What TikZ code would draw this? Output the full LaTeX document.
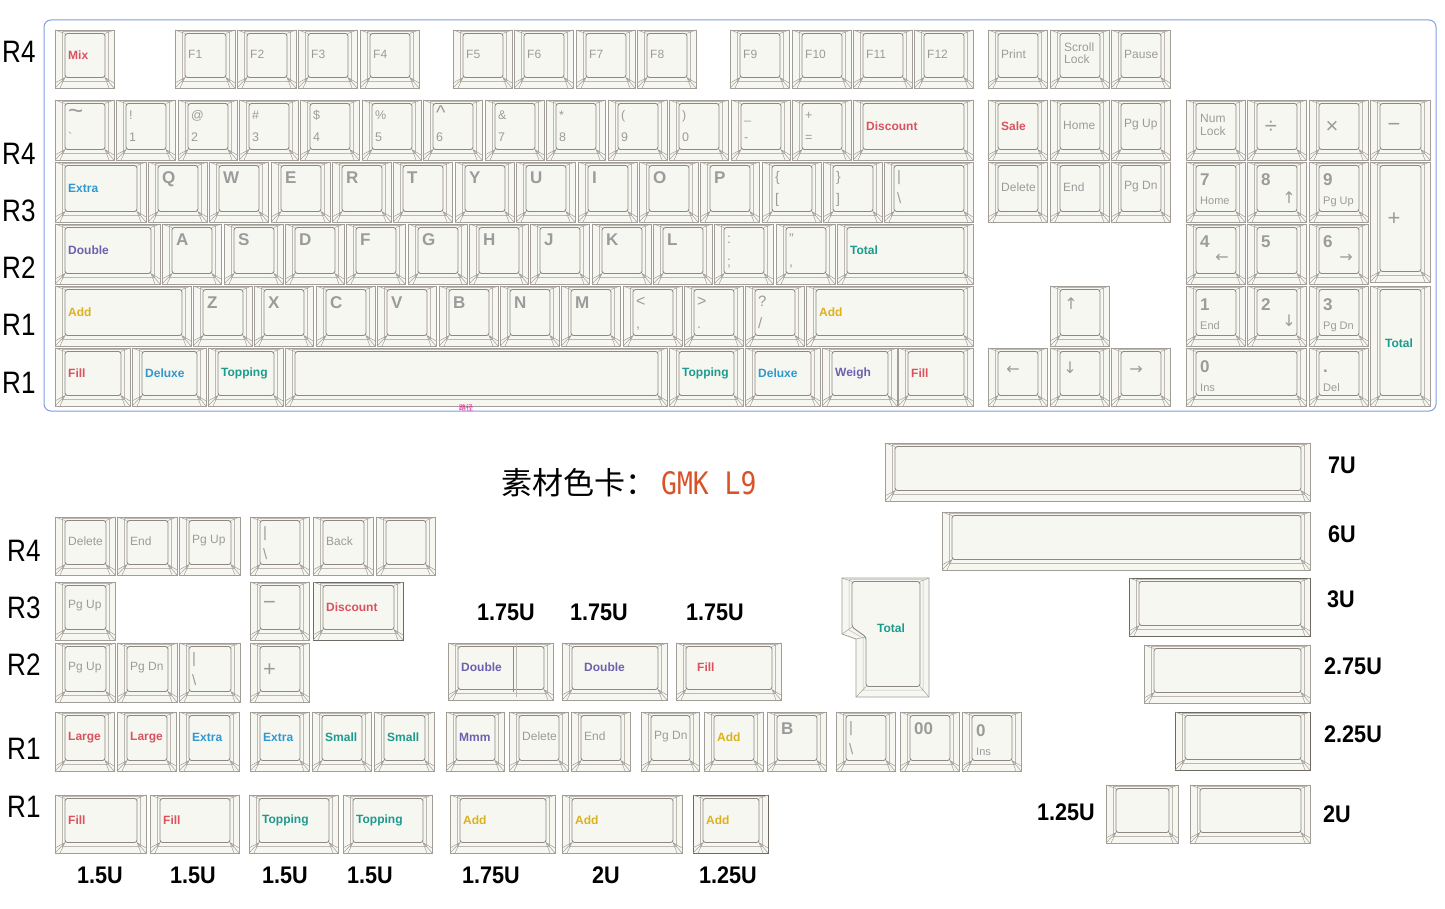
\documentclass[tikz,border=0pt]{standalone}
\usepackage{fontspec}
\usepackage{graphicx}
\setmainfont{Liberation Sans}
\newfontfamily\cjk{Noto Sans CJK SC}
\newfontfamily\mono{DejaVu Sans Mono}
\newfontfamily\symf{DejaVu Sans}

\definecolor{capfill}{HTML}{F7F7F2}
\definecolor{capline}{HTML}{A29D97}
\definecolor{capwallc}{HTML}{BDB8B2}
\definecolor{capfacec}{HTML}{8E8882}
\definecolor{capdark}{HTML}{6E6963}
\definecolor{legred}{HTML}{D9525E}
\definecolor{legblue}{HTML}{2F98CF}
\definecolor{legteal}{HTML}{1C9A8C}
\definecolor{legyellow}{HTML}{DDB11E}
\definecolor{legpurple}{HTML}{6B61AE}
\definecolor{leggray}{HTML}{9B9B9B}
\definecolor{frameblue}{HTML}{7F9EE3}
\definecolor{titleorange}{HTML}{D9532A}

% one keycap, x1 y1 x2 y2 (y down)
\newcommand{\keycap}[5][]{%
  \draw[capout,#1] (#2,#3) rectangle (#4,#5);
  \draw[capwall] ({#2+7},{#3+1.5}) rectangle ({#4-6},{#5-7});
  \draw[capface] ({#2+10},{#3+3.5}) rectangle ({#4-9},{#5-10.5});
  \draw[capbevel] (#2,#3) -- ({#2+10},{#3+3.5}) (#4,#3) -- ({#4-9},{#3+3.5})
    (#2,{#5-5}) -- ({#2+10},{#5-10.5}) -- ({#2+5},#5)
    (#2,#5) -- ({#2+10},{#5-10.5})
    (#4,{#5-5}) -- ({#4-9},{#5-10.5}) -- ({#4-5},#5)
    (#4,#5) -- ({#4-9},{#5-10.5});}
\newcommand{\modkey}[7][]{\keycap[#1]{#2}{#3}{#4}{#5}
  \node[modleg,text=#6] (k-#2-#3) at ({#2+13},{(#3+#5)/2-4}) {#7};}
\newcommand{\graykey}[5]{\keycap{#1}{#2}{#3}{#4}
  \node[grayleg] (k-#1-#2) at ({#1+13},{(#2+#4)/2-5}) {#5};}
\newcommand{\alphakey}[5]{\keycap{#1}{#2}{#3}{#4}
  \node[alphaleg] (k-#1-#2) at ({#1+14},{#2+22}) {#5};}
\newcommand{\dualkey}[6]{\keycap{#1}{#2}{#3}{#4}
  \node[subleg] (k-#1-#2) at ({#1+13},{#2+20}) {#5};
  \node[subleg] (k-#1-#2-b) at ({#1+13},{#2+42}) {#6};}
\newcommand{\padkey}[6]{\keycap{#1}{#2}{#3}{#4}
  \node[alphaleg] (k-#1-#2) at ({#1+14},{#2+24}) {#5};
  \node[subleg,font=\fontsize{11}{12}\selectfont] (k-#1-#2-b) at ({#1+14},{#2+43}) {#6};}

\begin{document}
\begin{tikzpicture}[x=1pt, y=-1pt,
  capout/.style={draw=capline, fill=capfill, line width=0.8pt},
  capwall/.style={draw=capwallc, line width=0.5pt},
  capface/.style={draw=capfacec, line width=0.9pt, rounded corners=2.5pt},
  capbevel/.style={draw=capline, line width=0.5pt},
  darkcap/.style={draw=capdark, line width=1pt},
  modleg/.style={anchor=west, inner sep=0pt, font=\fontsize{12}{12}\selectfont\bfseries},
  grayleg/.style={anchor=west, inner sep=0pt, text=leggray, font=\fontsize{12}{12}\selectfont},
  alphaleg/.style={anchor=base west, inner sep=0pt, text=leggray, font=\fontsize{17}{18}\selectfont\bfseries},
  subleg/.style={anchor=base west, inner sep=0pt, text=leggray, font=\fontsize{12.5}{13}\selectfont},
  bigsym/.style={inner sep=0pt, text=leggray, font=\fontsize{22}{22}\selectfont},
  arrowleg/.style={inner sep=0pt, text=leggray, font=\symf\fontsize{16}{16}\selectfont},
  rowlab/.style={anchor=west, inner sep=0pt, font=\fontsize{31}{32}\selectfont},
  sizelab/.style={inner sep=0pt, font=\fontsize{24}{24}\selectfont\bfseries}]
\useasboundingbox (0,0) rectangle (1445,909);
\fill[white] (0,0) rectangle (1445,909);

% row labels
\node[rowlab] (ra1) at (2,52) {\scalebox{0.84}[1]{R4}};
\node[rowlab] (ra2) at (2,154) {\scalebox{0.84}[1]{R4}};
\node[rowlab] (ra3) at (2,211) {\scalebox{0.84}[1]{R3}};
\node[rowlab] (ra4) at (2,268) {\scalebox{0.84}[1]{R2}};
\node[rowlab] (ra5) at (2,325) {\scalebox{0.84}[1]{R1}};
\node[rowlab] (ra6) at (2,383) {\scalebox{0.84}[1]{R1}};

\draw[frameblue, line width=1pt, rounded corners=7pt] (44,20) rectangle (1436,411);

% function row
\modkey{55}{30}{114}{88}{legred}{Mix}
\graykey{175}{30}{235}{88}{F1}
\graykey{237}{30}{296}{88}{F2}
\graykey{298}{30}{357}{88}{F3}
\graykey{360}{30}{419}{88}{F4}
\graykey{453}{30}{512}{88}{F5}
\graykey{514}{30}{573}{88}{F6}
\graykey{576}{30}{635}{88}{F7}
\graykey{637}{30}{696}{88}{F8}
\graykey{730}{30}{789}{88}{F9}
\graykey{792}{30}{851}{88}{F10}
\graykey{853}{30}{912}{88}{F11}
\graykey{914}{30}{973}{88}{F12}
\graykey{988}{30}{1047}{88}{Print}
\keycap{1050}{30}{1109}{88}
\node[grayleg] (scroll) at (1064,47) {Scroll};
\node[grayleg] (slock) at (1064,59) {Lock};
\graykey{1111}{30}{1170}{88}{Pause}

% number row
\dualkey{55}{100}{114}{160}{\fontsize{26}{26}\selectfont\textasciitilde}{\textasciigrave}
\dualkey{116}{100}{175}{160}{!}{1}
\dualkey{178}{100}{237}{160}{@}{2}
\dualkey{239}{100}{298}{160}{\#}{3}
\dualkey{300}{100}{359}{160}{\$}{4}
\dualkey{362}{100}{421}{160}{\%}{5}
\dualkey{423}{100}{482}{160}{\fontsize{20}{20}\selectfont\textasciicircum}{6}
\dualkey{485}{100}{544}{160}{\&}{7}
\dualkey{546}{100}{605}{160}{*}{8}
\dualkey{608}{100}{667}{160}{(}{9}
\dualkey{669}{100}{728}{160}{)}{0}
\dualkey{731}{100}{790}{160}{\_}{-}
\dualkey{792}{100}{851}{160}{+}{=}
\modkey{853}{100}{973}{160}{legred}{Discount}
\modkey{988}{100}{1047}{160}{legred}{Sale}
\graykey{1050}{100}{1109}{160}{Home}
\graykey{1111}{100}{1170}{160}{Pg Up}
\keycap{1186}{100}{1245}{160}
\node[grayleg] (numa) at (1200,118) {Num};
\node[grayleg] (numb) at (1200,131) {Lock};
\keycap{1247}{100}{1306}{160}
\node[bigsym] (div) at (1271,127) {÷};
\keycap{1309}{100}{1368}{160}
\node[bigsym] (mul) at (1332,127) {×};
\keycap{1370}{100}{1430}{160}
\node[bigsym] (minus) at (1394,127) {−};

% qwerty row
\modkey{55}{162}{146}{222}{legblue}{Extra}
\alphakey{148}{162}{207}{222}{Q}
\alphakey{209}{162}{268}{222}{W}
\alphakey{271}{162}{330}{222}{E}
\alphakey{332}{162}{391}{222}{R}
\alphakey{393}{162}{452}{222}{T}
\alphakey{455}{162}{514}{222}{Y}
\alphakey{516}{162}{575}{222}{U}
\alphakey{578}{162}{637}{222}{I}
\alphakey{639}{162}{698}{222}{O}
\alphakey{700}{162}{759}{222}{P}
\dualkey{762}{162}{821}{222}{\fontsize{14}{14}\selectfont\{}{\fontsize{14}{14}\selectfont[}
\dualkey{823}{162}{882}{222}{\fontsize{14}{14}\selectfont\}}{\fontsize{14}{14}\selectfont]}
\dualkey{884}{162}{973}{222}{\fontsize{15}{15}\selectfont\textbar}{\fontsize{15}{15}\selectfont\textbackslash}
\graykey{988}{162}{1047}{222}{Delete}
\graykey{1050}{162}{1109}{222}{End}
\graykey{1111}{162}{1170}{222}{Pg Dn}
\padkey{1186}{162}{1245}{222}{7}{Home}
\padkey{1247}{162}{1306}{222}{8}{}
\node[arrowleg] (up8) at (1289,198) {↑};
\padkey{1309}{162}{1368}{222}{9}{Pg Up}
\keycap{1370}{162}{1430}{282}
\node[bigsym] (plus) at (1394,219) {+};

% home row
\modkey{55}{224}{160}{284}{legpurple}{Double}
\alphakey{162}{224}{221}{284}{A}
\alphakey{224}{224}{283}{284}{S}
\alphakey{285}{224}{344}{284}{D}
\alphakey{346}{224}{405}{284}{F}
\alphakey{408}{224}{467}{284}{G}
\alphakey{469}{224}{528}{284}{H}
\alphakey{530}{224}{589}{284}{J}
\alphakey{592}{224}{651}{284}{K}
\alphakey{653}{224}{712}{284}{L}
\dualkey{714}{224}{773}{284}{\fontsize{14}{14}\selectfont:}{\fontsize{14}{14}\selectfont;}
\dualkey{776}{224}{835}{284}{\fontsize{14}{14}\selectfont\textquotedblright}{\fontsize{14}{14}\selectfont,}
\modkey{837}{224}{973}{284}{legteal}{Total}
\padkey{1186}{224}{1245}{284}{4}{}
\node[arrowleg] (left4) at (1222,258) {←};
\padkey{1247}{224}{1306}{284}{5}{}
\padkey{1309}{224}{1368}{284}{6}{}
\node[arrowleg] (right6) at (1346,258) {→};

% bottom alpha row
\modkey{55}{286}{191}{346}{legyellow}{Add}
\alphakey{193}{286}{252}{346}{Z}
\alphakey{254}{286}{313}{346}{X}
\alphakey{316}{286}{375}{346}{C}
\alphakey{377}{286}{436}{346}{V}
\alphakey{439}{286}{498}{346}{B}
\alphakey{500}{286}{559}{346}{N}
\alphakey{561}{286}{620}{346}{M}
\dualkey{623}{286}{682}{346}{\fontsize{16}{16}\selectfont<}{\fontsize{14}{14}\selectfont,}
\dualkey{684}{286}{743}{346}{\fontsize{16}{16}\selectfont>}{\fontsize{14}{14}\selectfont.}
\dualkey{745}{286}{804}{346}{\fontsize{15}{15}\selectfont?}{\fontsize{15}{15}\selectfont/}
\modkey{806}{286}{973}{346}{legyellow}{Add}
\keycap{1050}{286}{1109}{346}
\node[arrowleg] (upk) at (1071,304) {↑};
\padkey{1186}{286}{1245}{346}{1}{End}
\padkey{1247}{286}{1306}{346}{2}{}
\node[arrowleg] (down2) at (1289,321) {↓};
\padkey{1309}{286}{1368}{346}{3}{Pg Dn}
\keycap{1370}{286}{1430}{406}
\node[modleg,text=legteal] (ptotal) at (1385,343) {Total};

% space row
\modkey{55}{348}{130}{406}{legred}{Fill}
\modkey{132}{348}{206}{406}{legblue}{Deluxe}
\modkey{208}{348}{283}{406}{legteal}{Topping}
\keycap{285}{348}{667}{406}
\modkey{669}{348}{743}{406}{legteal}{Topping}
\modkey{745}{348}{820}{406}{legblue}{Deluxe}
\modkey{822}{348}{897}{406}{legpurple}{Weigh}
\modkey{898}{348}{973}{406}{legred}{Fill}
\keycap{988}{348}{1047}{406}
\node[arrowleg] (leftk) at (1013,370) {←};
\keycap{1050}{348}{1109}{406}
\node[arrowleg] (downk) at (1070,368) {↓};
\keycap{1111}{348}{1170}{406}
\node[arrowleg] (rightk) at (1136,370) {→};
\padkey{1186}{348}{1306}{406}{0}{Ins}
\padkey{1309}{348}{1368}{406}{.}{Del}

\node[text=magenta, inner sep=0pt, font=\cjk\fontsize{7}{7}\selectfont] (pathnote) at (466,408) {路径};

% title
\node[anchor=base east, inner sep=0pt, font=\cjk\fontsize{31}{31}\selectfont] (title) at (657,494) {素材色卡：};
\node[anchor=base west, inner sep=0pt, text=titleorange, font=\mono\fontsize{31}{31}\selectfont] (gmk) at (661,494) {\scalebox{0.85}[1]{GMK L9}};

% lower kit labels
\node[rowlab] (rb1) at (7,551) {\scalebox{0.84}[1]{R4}};
\node[rowlab] (rb2) at (7,608) {\scalebox{0.84}[1]{R3}};
\node[rowlab] (rb3) at (7,665) {\scalebox{0.84}[1]{R2}};
\node[rowlab] (rb4) at (7,749) {\scalebox{0.84}[1]{R1}};
\node[rowlab] (rb5) at (7,807) {\scalebox{0.84}[1]{R1}};

% lower R4
\graykey{55}{517}{115}{575}{Delete}
\graykey{117}{517}{177}{575}{End}
\graykey{179}{517}{240}{575}{Pg Up}
\dualkey{250}{517}{309}{575}{\fontsize{15}{15}\selectfont\textbar}{\fontsize{15}{15}\selectfont\textbackslash}
\graykey{313}{517}{373}{575}{Back}
\keycap{376}{517}{435}{575}

% lower R3
\graykey{55}{582}{115}{640}{Pg Up}
\keycap{250}{582}{309}{640}
\node[bigsym, anchor=west] (dash3) at (263,605) {−};
\modkey[darkcap]{313}{582}{403}{640}{legred}{Discount}

% lower R2
\graykey{55}{643}{115}{702}{Pg Up}
\graykey{117}{643}{177}{702}{Pg Dn}
\dualkey{179}{643}{240}{702}{\fontsize{15}{15}\selectfont\textbar}{\fontsize{15}{15}\selectfont\textbackslash}
\keycap{250}{643}{309}{702}
\node[bigsym, anchor=west] (plus2) at (263,670) {+};

% 1.75U group
\node[sizelab] (sa) at (506,612) {\scalebox{0.9}[1]{1.75U}};
\node[sizelab] (sb) at (599,612) {\scalebox{0.9}[1]{1.75U}};
\node[sizelab] (sc) at (715,612) {\scalebox{0.9}[1]{1.75U}};
\modkey{448}{643}{553}{700}{legpurple}{Double}
\draw[capface] (513,646.5) -- (513,692);
\draw[capwall] (516,645) -- (516,697);
\keycap{562}{643}{667}{700}
\node[modleg,text=legpurple] (dbl2) at (584,667) {Double};
\keycap{676}{643}{781}{700}
\node[modleg,text=legred] (fill2) at (697,667) {Fill};

% iso enter
\draw[capout] (842,578) -- (929,578) -- (929,697) -- (856,697) -- (856,639) -- (842,634) -- cycle;
\draw[capwall] (849,579.5) -- (923,579.5) -- (923,690) -- (863,690) -- (863,638) -- (849,630) -- cycle;
\draw[capface] (852,581.5) -- (920,581.5) -- (920,686.5) -- (866,686.5) -- (866,637) -- (852,627) -- cycle;
\draw[capbevel] (842,578) -- (852,581.5) (929,578) -- (920,581.5) (929,697) -- (920,686.5)
  (856,697) -- (866,686.5) (842,634) -- (852,627) (856,639) -- (866,637);
\node[modleg,text=legteal] (isototal) at (877,628) {Total};

% lower R1
\modkey{55}{712}{114}{771}{legred}{Large}
\modkey{117}{712}{176}{771}{legred}{Large}
\modkey{179}{712}{239}{771}{legblue}{Extra}
\modkey{250}{712}{309}{771}{legblue}{Extra}
\modkey{312}{712}{371}{771}{legteal}{Small}
\modkey{374}{712}{434}{771}{legteal}{Small}
\modkey{446}{712}{504}{771}{legpurple}{Mmm}
\graykey{509}{712}{568}{771}{Delete}
\graykey{571}{712}{630}{771}{End}
\graykey{641}{712}{699}{771}{Pg Dn}
\modkey{704}{712}{763}{771}{legyellow}{Add}
\alphakey{767}{712}{826}{771}{B}
\dualkey{836}{712}{895}{771}{\fontsize{15}{15}\selectfont\textbar}{\fontsize{15}{15}\selectfont\textbackslash}
\alphakey{900}{712}{959}{771}{00}
\padkey{962}{712}{1021}{771}{0}{Ins}

% bottom R1
\modkey{55}{795}{146}{853}{legred}{Fill}
\modkey{150}{795}{239}{853}{legred}{Fill}
\modkey{249}{795}{338}{853}{legteal}{Topping}
\modkey{343}{795}{432}{853}{legteal}{Topping}
\modkey{450}{795}{555}{853}{legyellow}{Add}
\modkey{562}{795}{682}{853}{legyellow}{Add}
\modkey[darkcap]{693}{795}{768}{853}{legyellow}{Add}
\node[sizelab] (u1) at (100,875) {\scalebox{0.9}[1]{1.5U}};
\node[sizelab] (u2) at (193,875) {\scalebox{0.9}[1]{1.5U}};
\node[sizelab] (u3) at (285,875) {\scalebox{0.9}[1]{1.5U}};
\node[sizelab] (u4) at (370,875) {\scalebox{0.9}[1]{1.5U}};
\node[sizelab] (u5) at (491,875) {\scalebox{0.9}[1]{1.75U}};
\node[sizelab] (u6) at (606,875) {\scalebox{0.9}[1]{2U}};
\node[sizelab] (u7) at (728,875) {\scalebox{0.9}[1]{1.25U}};

% long blanks
\keycap{885}{443}{1310}{501}
\keycap{942}{512}{1310}{570}
\keycap[darkcap]{1129}{578}{1310}{636}
\keycap{1144}{645}{1310}{703}
\keycap[darkcap]{1175}{712}{1310}{770}
\keycap{1106}{785}{1178}{843}
\keycap{1190}{785}{1310}{843}
\node[sizelab, anchor=west] (l7) at (1328,465) {\scalebox{0.9}[1]{7U}};
\node[sizelab, anchor=west] (l6) at (1328,534) {\scalebox{0.9}[1]{6U}};
\node[sizelab, anchor=west] (l3) at (1327,599) {\scalebox{0.9}[1]{3U}};
\node[sizelab, anchor=west] (l275) at (1324,666) {\scalebox{0.9}[1]{2.75U}};
\node[sizelab, anchor=west] (l225) at (1324,734) {\scalebox{0.9}[1]{2.25U}};
\node[sizelab, anchor=west] (l2) at (1323,814) {\scalebox{0.9}[1]{2U}};
\node[sizelab, anchor=east] (l125) at (1095,812) {\scalebox{0.9}[1]{1.25U}};
\end{tikzpicture}
\end{document}
